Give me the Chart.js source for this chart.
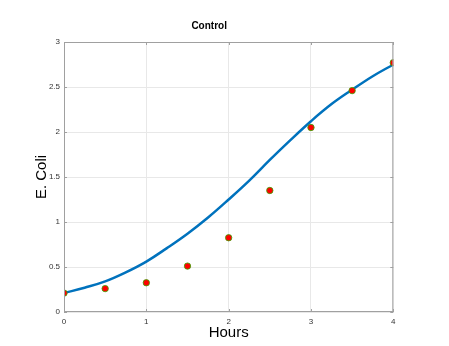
<!DOCTYPE html>
<html>
<head>
<meta charset="utf-8">
<script src="https://cdn.jsdelivr.net/npm/chart.js@4"></script>
<style>
  html, body { margin: 0; padding: 0; background: #ffffff; }
  canvas { display: block; }
</style>
</head>
<body>
<canvas id="myChart" width="449" height="346"></canvas>
<script>
// measured samples
let hours = [0, 0.5, 1, 1.5, 2, 2.5, 3, 3.5, 4];
let coli = [0.21, 0.26, 0.325, 0.51, 0.825, 1.35, 2.05, 2.46, 2.77];

// fitted curve
let fitHours = [0, 0.25, 0.5, 0.75, 1, 1.25, 1.5, 1.75, 2, 2.25, 2.5, 2.75, 3, 3.25, 3.5, 3.75, 4];
let fitColi = [0.21, 0.27, 0.34, 0.44, 0.56, 0.71, 0.87, 1.05, 1.25, 1.46, 1.69, 1.91, 2.12, 2.31, 2.47, 2.62, 2.75];

let xTicks = [0, 1, 2, 3, 4];
let yTicks = [0, 0.5, 1, 1.5, 2, 2.5, 3];

function toPoints(xs, ys)
{
    let pts = [];
    for (let i = 0; i < xs.length; i++)
        pts.push({x: xs[i], y: ys[i]});
    return pts;
}

// box round the plot area plus small inward ticks
const boxPlugin = {
    id: 'box',
    afterDatasetsDraw(chart)
    {
        let ctx = chart.ctx;
        let a = chart.chartArea;
        let sx = chart.scales.x;
        let sy = chart.scales.y;
        ctx.save();
        ctx.strokeStyle = '#a0a0a0';
        ctx.lineWidth = 1;
        ctx.strokeRect(a.left + 0.5, a.top + 0.5, a.right - a.left - 1, a.bottom - a.top - 1);
        ctx.beginPath();
        xTicks.forEach(v => {
            let px = Math.round(sx.getPixelForValue(v)) + 0.5;
            ctx.moveTo(px, a.bottom); ctx.lineTo(px, a.bottom - 3);
            ctx.moveTo(px, a.top); ctx.lineTo(px, a.top + 3);
        });
        yTicks.forEach(v => {
            let py = Math.round(sy.getPixelForValue(v)) + 0.5;
            ctx.moveTo(a.left, py); ctx.lineTo(a.left + 3, py);
            ctx.moveTo(a.right, py); ctx.lineTo(a.right - 3, py);
        });
        ctx.stroke();
        ctx.restore();
    }
};

Chart.defaults.font.family = 'Liberation Sans, Arial, sans-serif';

new Chart(document.getElementById('myChart'),
{
    type: 'scatter',
    data:
    {
        datasets: [
            {
                label: 'data',
                data: toPoints(hours, coli),
                backgroundColor: '#ff0000',
                borderColor: '#33aa00',
                borderWidth: 0.8,
                pointRadius: 3.2,
                showLine: false
            },
            {
                label: 'fit',
                data: toPoints(fitHours, fitColi),
                showLine: true,
                borderColor: '#0072bd',
                borderWidth: 2.5,
                pointRadius: 0,
                tension: 0.4,
                fill: false
            }
        ]
    },
    options:
    {
        responsive: false,
        animation: false,
        layout: { padding: { left: 25, right: 55.7, top: 0, bottom: 0 } },
        plugins:
        {
            legend: { display: false },
            tooltip: { enabled: false },
            title:
            {
                display: true,
                text: 'Control',
                color: '#000000',
                font: { size: 10, weight: 'bold' },
                padding: { top: 20, bottom: 10 }
            }
        },
        scales:
        {
            x: {
                type: 'linear',
                min: 0,
                max: 4,
                afterBuildTicks: s => { s.ticks = xTicks.map(v => ({value: v})); },
                afterFit: s => { s.height = 34; },
                ticks: { color: '#333333', font: { size: 8 }, padding: 5, maxRotation: 0, callback: v => String(v) },
                grid: { color: '#e8e8e8', drawTicks: false },
                border: { display: false },
                title: {
                    display: true,
                    text: 'Hours',
                    color: '#000000',
                    font: { size: 15 },
                    padding: { top: 0, bottom: 4 }
                }
            },
            y: {
                type: 'linear',
                min: 0,
                max: 3,
                afterBuildTicks: s => { s.ticks = yTicks.map(v => ({value: v})); },
                afterFit: s => { s.width = 39; },
                ticks: { color: '#333333', font: { size: 8 }, padding: 4, callback: v => String(v) },
                grid: { color: '#e8e8e8', drawTicks: false },
                border: { display: false },
                title: {
                    display: true,
                    text: 'E. Coli',
                    color: '#000000',
                    font: { size: 15 },
                    padding: { top: 8, bottom: 0 }
                }
            }
        }
    },
    plugins: [boxPlugin]
});
</script>
</body>
</html>
